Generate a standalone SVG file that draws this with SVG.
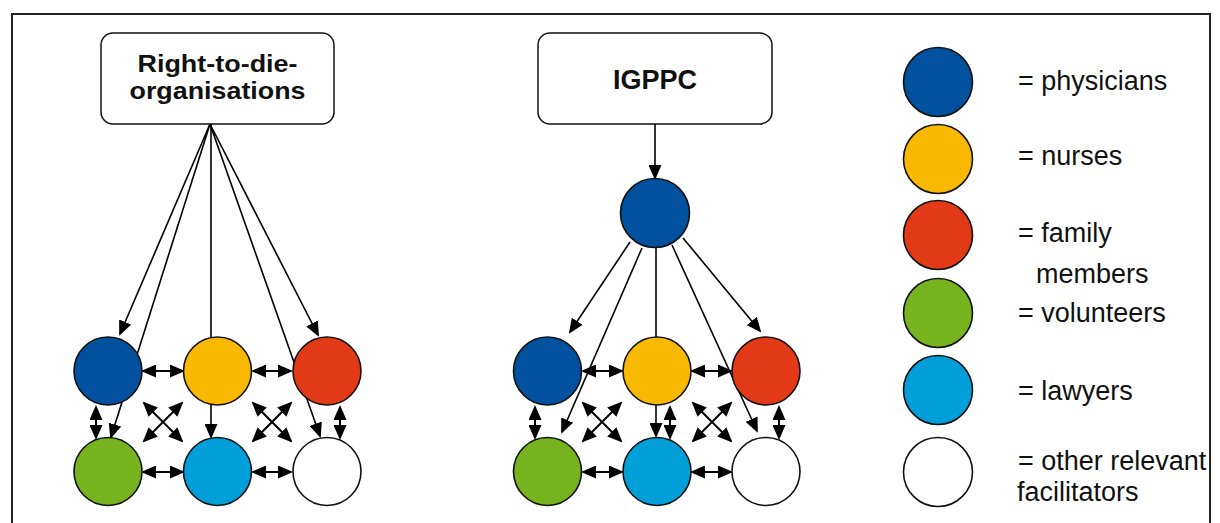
<svg xmlns="http://www.w3.org/2000/svg" width="1220" height="523" viewBox="0 0 1220 523">
  <defs>
    <marker id="ah" viewBox="0 0 15 13" refX="13" refY="6.5" markerWidth="15" markerHeight="13" markerUnits="userSpaceOnUse" orient="auto-start-reverse">
      <path d="M0,0 L15,6.5 L0,13 z" fill="#000"/>
    </marker>
  </defs>
  <style>
    .frame { fill: none; stroke: #222; stroke-width: 2; }
    .box { fill: #fff; stroke: #111; stroke-width: 1.5; }
    .boxlabel { font-family: "Liberation Sans", Arial, sans-serif; font-weight: bold; fill: #111; text-anchor: middle; }
    .node { stroke: #111; stroke-width: 1.6; }
    .phys { fill: #02519F; }
    .nurse { fill: #F8B900; }
    .family { fill: #E23A17; }
    .vol { fill: #77B31F; }
    .law { fill: #009FD9; }
    .other { fill: #fff; }
    .edge { stroke: #000; stroke-width: 1.6; fill: none; marker-end: url(#ah); }
    .both { stroke: #000; stroke-width: 2; fill: none; marker-start: url(#ah); marker-end: url(#ah); }
    .legend { font-family: "Liberation Sans", Arial, sans-serif; font-size: 27px; fill: #111; }
  </style>

  <rect class="frame" x="12" y="14" width="1198" height="530"/>

  <g id="connectors">
    <!-- fan from the right-to-die organisations -->
    <line class="edge" x1="210" y1="124" x2="120" y2="334"/>
    <line class="edge" x1="210" y1="124" x2="111" y2="437"/>
    <line class="edge" x1="211" y1="124" x2="211" y2="437"/>
    <line class="edge" x1="210" y1="124" x2="320" y2="436"/>
    <line class="edge" x1="210" y1="124" x2="318" y2="335"/>
    <!-- left network mutual links -->
    <line class="both" x1="143" y1="371" x2="183" y2="371"/>
    <line class="both" x1="253" y1="371" x2="291" y2="371"/>
    <line class="both" x1="143" y1="472" x2="183" y2="472"/>
    <line class="both" x1="253" y1="472" x2="291" y2="472"/>
    <line class="both" x1="96" y1="407" x2="96" y2="438"/>
    <line class="both" x1="340" y1="407" x2="340" y2="438"/>
    <line class="both" x1="144" y1="403" x2="182" y2="441"/>
    <line class="both" x1="182" y1="403" x2="144" y2="441"/>
    <line class="both" x1="253" y1="403" x2="291" y2="441"/>
    <line class="both" x1="291" y1="403" x2="253" y2="441"/>

    <!-- IGPPC to its physician, then fan -->
    <line class="edge" x1="655" y1="124" x2="655" y2="178"/>
    <line class="edge" x1="630" y1="242" x2="570" y2="332"/>
    <line class="edge" x1="642" y1="248" x2="562" y2="432"/>
    <line class="edge" x1="656" y1="248" x2="656" y2="436"/>
    <line class="edge" x1="672" y1="245" x2="757" y2="431"/>
    <line class="edge" x1="683" y1="238" x2="760" y2="331"/>
    <!-- right network mutual links -->
    <line class="both" x1="583" y1="371" x2="622" y2="371"/>
    <line class="both" x1="692" y1="371" x2="731" y2="371"/>
    <line class="both" x1="583" y1="472" x2="622" y2="472"/>
    <line class="both" x1="692" y1="472" x2="731" y2="472"/>
    <line class="both" x1="535" y1="407" x2="535" y2="438"/>
    <line class="both" x1="670" y1="407" x2="670" y2="438"/>
    <line class="both" x1="779" y1="407" x2="779" y2="438"/>
    <line class="both" x1="583" y1="403" x2="621" y2="441"/>
    <line class="both" x1="621" y1="403" x2="583" y2="441"/>
    <line class="both" x1="693" y1="403" x2="731" y2="441"/>
    <line class="both" x1="731" y1="403" x2="693" y2="441"/>
  </g>

  <g id="rtd-org">
    <rect class="box" x="101" y="33" width="233" height="91" rx="12"/>
    <text class="boxlabel" x="217.5" y="71.5" font-size="24" textLength="160" lengthAdjust="spacingAndGlyphs">Right-to-die-</text>
    <text class="boxlabel" x="217.5" y="98.5" font-size="24" textLength="176" lengthAdjust="spacingAndGlyphs">organisations</text>
  </g>
  <g id="igppc">
    <rect class="box" x="538" y="33" width="234" height="91" rx="12"/>
    <text class="boxlabel" x="655" y="88.5" font-size="27">IGPPC</text>
  </g>

  <g id="igppc-physician"><circle class="node phys" cx="655" cy="213" r="34.5"/></g>

  <g id="left-physicians"><circle class="node phys" cx="108" cy="371" r="34"/></g>
  <g id="left-nurses"><circle class="node nurse" cx="217.5" cy="371" r="34"/></g>
  <g id="left-family"><circle class="node family" cx="327" cy="371" r="34"/></g>
  <g id="left-volunteers"><circle class="node vol" cx="108" cy="471.5" r="34"/></g>
  <g id="left-lawyers"><circle class="node law" cx="217.5" cy="471.5" r="34"/></g>
  <g id="left-others"><circle class="node other" cx="327" cy="471.5" r="34"/></g>

  <g id="right-physicians"><circle class="node phys" cx="547.5" cy="371" r="34"/></g>
  <g id="right-nurses"><circle class="node nurse" cx="657" cy="371" r="34"/></g>
  <g id="right-family"><circle class="node family" cx="766" cy="371" r="34"/></g>
  <g id="right-volunteers"><circle class="node vol" cx="547.5" cy="471.5" r="34"/></g>
  <g id="right-lawyers"><circle class="node law" cx="657" cy="471.5" r="34"/></g>
  <g id="right-others"><circle class="node other" cx="766" cy="471.5" r="34"/></g>

  <g id="legend">
    <circle class="node phys" cx="938" cy="82" r="34.5"/>
    <circle class="node nurse" cx="938" cy="159" r="34.5"/>
    <circle class="node family" cx="938" cy="235" r="34.5"/>
    <circle class="node vol" cx="938" cy="313" r="34.5"/>
    <circle class="node law" cx="938" cy="390" r="34.5"/>
    <circle class="node other" cx="938" cy="472" r="34.5"/>
    <text class="legend" x="1018" y="90">= physicians</text>
    <text class="legend" x="1018" y="165">= nurses</text>
    <text class="legend" x="1018" y="242">= family</text>
    <text class="legend" x="1036" y="283">members</text>
    <text class="legend" x="1018" y="322">= volunteers</text>
    <text class="legend" x="1018" y="400">= lawyers</text>
    <text class="legend" x="1018" y="470">= other relevant</text>
    <text class="legend" x="1017" y="501">facilitators</text>
  </g>
</svg>
